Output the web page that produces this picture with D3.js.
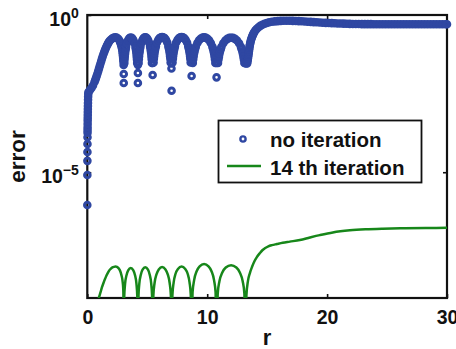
<!DOCTYPE html>
<html>
<head>
<meta charset="utf-8">
<script src="https://cdn.jsdelivr.net/npm/d3@7"></script>
<style>
  html, body { margin: 0; padding: 0; background: #fff; }
  svg { display: block; }
</style>
</head>
<body>
<svg id="chart" width="456" height="349"></svg>
<script>
// ---- data -------------------------------------------------------------
const xTicks = [0, 10, 20, 30];
const yTickExponents = [0, -5];
const seriesNames = ["no iteration", "14 th iteration"];

// error without iteration: [r, error]
const noIterStart = [
  [0.000, 9.1e-7], [0.004, 8.2e-6], [0.008, 2.3e-5], [0.011, 4.4e-5], [0.014, 7.9e-5],
  [0.017, 1.3e-4], [0.020, 1.8e-4], [0.023, 2.2e-4], [0.026, 2.7e-4], [0.029, 3.4e-4],
  [0.032, 4.3e-4], [0.035, 5.3e-4], [0.039, 6.6e-4], [0.043, 8.2e-4], [0.047, 1.02e-3],
  [0.052, 1.28e-3], [0.057, 1.59e-3], [0.063, 2.0e-3], [0.070, 2.5e-3], [0.080, 3.1e-3],
  [0.10, 3.56e-3], [0.225, 4.12e-3], [0.35, 4.77e-3], [0.475, 5.73e-3], [0.60, 7.4e-3],
  [0.6625, 8.57e-3], [0.725, 9.9e-3], [0.7875, 0.0117], [0.85, 0.0138], [0.9125, 0.0166],
  [0.975, 0.0199], [1.0375, 0.0239], [1.10, 0.0287], [1.1625, 0.0344], [1.225, 0.0413],
  [1.2875, 0.0488], [1.35, 0.0575], [1.4125, 0.0666], [1.475, 0.0771], [1.5375, 0.0876],
  [1.60, 0.0995], [1.6625, 0.111], [1.725, 0.124], [1.7875, 0.136], [1.85, 0.149],
  [1.975, 0.166], [2.10, 0.182], [2.225, 0.191], [2.35, 0.194], [2.475, 0.188],
  [2.60, 0.173], [2.71, 0.149], [2.75, 0.136], [2.79, 0.124], [2.825, 0.111],
  [2.86, 0.0995], [2.89, 0.088], [2.92, 0.0771], [2.94, 0.0666], [2.96, 0.0575],
  [2.975, 0.0498], [2.99, 0.0429], [3.005, 0.037], [3.02, 0.032], [3.03, 0.0257],
  [3.04, 0.0133], [3.04, 0.0069]
];

const noIterHumps = [
  [3.09, 0.030], [3.107, 0.0385], [3.125, 0.047], [3.149, 0.0587], [3.17, 0.070], [3.203, 0.0836],
  [3.23, 0.097], [3.30, 0.126], [3.39, 0.154], [3.47, 0.174], [3.55, 0.187], [3.625, 0.190],
  [3.70, 0.187], [3.78, 0.174], [3.86, 0.154], [3.95, 0.126], [4.02, 0.097], [4.047, 0.0836],
  [4.08, 0.070], [4.101, 0.0587], [4.12, 0.047], [4.143, 0.0385], [4.16, 0.030],
  [4.22, 0.026], [4.22, 0.0143], [4.22, 0.0069],
  [4.28, 0.030], [4.300, 0.0395], [4.32, 0.049], [4.343, 0.0603], [4.37, 0.072], [4.398, 0.0858],
  [4.43, 0.099], [4.50, 0.129], [4.59, 0.158], [4.67, 0.179], [4.76, 0.191], [4.835, 0.195],
  [4.91, 0.191], [4.995, 0.179], [5.08, 0.158], [5.17, 0.129], [5.24, 0.099], [5.272, 0.0858],
  [5.30, 0.072], [5.327, 0.0603], [5.35, 0.049], [5.370, 0.0395], [5.39, 0.030],
  [5.45, 0.030], [5.45, 0.0123],
  [5.53, 0.031], [5.553, 0.0406], [5.58, 0.050], [5.608, 0.0618], [5.64, 0.074], [5.679, 0.088],
  [5.72, 0.102], [5.81, 0.133], [5.92, 0.162], [6.03, 0.184], [6.15, 0.196], [6.24, 0.200],
  [6.33, 0.196], [6.45, 0.184], [6.56, 0.162], [6.67, 0.133], [6.76, 0.102], [6.801, 0.088],
  [6.84, 0.074], [6.872, 0.0618], [6.90, 0.050], [6.927, 0.0406], [6.95, 0.031],
  [7.03, 0.029], [7.02, 0.020], [7.03, 0.0039],
  [7.11, 0.031], [7.139, 0.0406], [7.16, 0.050], [7.197, 0.0618], [7.23, 0.074], [7.272, 0.088],
  [7.31, 0.102], [7.41, 0.133], [7.53, 0.162], [7.65, 0.184], [7.76, 0.196], [7.865, 0.200],
  [7.97, 0.196], [8.08, 0.184], [8.20, 0.162], [8.32, 0.133], [8.42, 0.102], [8.458, 0.088],
  [8.50, 0.074], [8.533, 0.0618], [8.57, 0.050], [8.591, 0.0406], [8.62, 0.031],
  [8.70, 0.035], [8.70, 0.0115],
  [8.80, 0.030], [8.835, 0.0395], [8.87, 0.049], [8.908, 0.0603], [8.95, 0.072], [9.002, 0.0858],
  [9.05, 0.099], [9.18, 0.129], [9.32, 0.158], [9.47, 0.179], [9.62, 0.191], [9.74, 0.195],
  [9.86, 0.191], [10.01, 0.179], [10.16, 0.158], [10.30, 0.129], [10.43, 0.099], [10.478, 0.0858],
  [10.53, 0.072], [10.572, 0.0603], [10.61, 0.049], [10.645, 0.0395], [10.68, 0.030],
  [10.78, 0.030], [10.78, 0.0104],
  [10.90, 0.030], [10.939, 0.0385], [10.98, 0.047], [11.024, 0.0587], [11.07, 0.070], [11.134, 0.0836],
  [11.19, 0.097], [11.34, 0.126], [11.51, 0.154], [11.68, 0.174], [11.85, 0.187], [12.00, 0.190],
  [12.15, 0.187], [12.32, 0.174], [12.49, 0.154], [12.66, 0.126], [12.81, 0.097], [12.866, 0.0836],
  [12.93, 0.070], [12.976, 0.0587], [13.02, 0.047], [13.061, 0.0385], [13.10, 0.030],
  [13.22, 0.029]
];

const noIterTail = [
  [13.33, 0.0287], [13.355, 0.0326], [13.38, 0.0371], [13.40, 0.0421], [13.42, 0.0479],
  [13.44, 0.0544], [13.46, 0.0618], [13.48, 0.0703], [13.50, 0.080], [13.52, 0.0908],
  [13.54, 0.103], [13.565, 0.115], [13.59, 0.129], [13.62, 0.144], [13.65, 0.160],
  [13.69, 0.178], [13.73, 0.197], [13.77, 0.216], [13.81, 0.236], [13.86, 0.257],
  [13.91, 0.280], [14.02, 0.324], [14.14, 0.367], [14.28, 0.409], [14.43, 0.450],
  [14.60, 0.488], [14.78, 0.525], [14.97, 0.557], [15.17, 0.586], [15.39, 0.608],
  [15.64, 0.626], [15.89, 0.640], [16.14, 0.649], [16.39, 0.653], [16.64, 0.653],
  [16.89, 0.653], [17.14, 0.649], [17.39, 0.645], [17.64, 0.640], [17.89, 0.630],
  [18.14, 0.620], [18.39, 0.612], [18.64, 0.603], [18.89, 0.595], [19.14, 0.586],
  [19.39, 0.577], [19.64, 0.569], [19.89, 0.563], [20.14, 0.557], [20.39, 0.550],
  [20.64, 0.545], [20.89, 0.538], [21.14, 0.534], [21.39, 0.531], [21.64, 0.527],
  [21.89, 0.523], [22.14, 0.520], [22.39, 0.517], [22.64, 0.515], [22.90, 0.514],
  [23.15, 0.513], [23.40, 0.512], [23.65, 0.511], [23.90, 0.510], [24.15, 0.510],
  [24.40, 0.509], [24.65, 0.509], [24.90, 0.508], [25.15, 0.508], [25.40, 0.507],
  [25.65, 0.507], [25.90, 0.507], [26.15, 0.506], [26.40, 0.506], [26.65, 0.506],
  [26.90, 0.506], [27.15, 0.506], [27.40, 0.506], [27.65, 0.506], [27.90, 0.506],
  [28.15, 0.506], [28.40, 0.506], [28.65, 0.506], [28.90, 0.506], [29.15, 0.506],
  [29.40, 0.506], [29.65, 0.506], [29.90, 0.506], [30.00, 0.506]
];

// error after the 14th iteration: [r, error]
const iter14 = [
  [0.85, 1e-11], [0.90, 8e-10], [0.975, 1.05e-9], [1.10, 1.5e-9], [1.225, 2.2e-9],
  [1.35, 3.0e-9], [1.475, 4.0e-9], [1.60, 5.2e-9], [1.725, 6.4e-9], [1.85, 7.7e-9],
  [1.975, 8.6e-9], [2.10, 9.4e-9], [2.225, 9.8e-9], [2.35, 1.0e-8], [2.475, 9.7e-9],
  [2.60, 8.9e-9], [2.71, 7.7e-9], [2.79, 6.4e-9], [2.86, 5.1e-9], [2.92, 4.0e-9],
  [2.96, 3.0e-9], [2.99, 2.2e-9], [3.01, 1.4e-9], [3.03, 1e-11],
  [3.08, 1.1e-9], [3.15, 2.8e-9], [3.27, 5.3e-9], [3.41, 7.6e-9], [3.625, 9.0e-9],
  [3.84, 7.6e-9], [3.98, 5.3e-9], [4.10, 2.8e-9], [4.17, 1.1e-9], [4.22, 1e-11],
  [4.27, 1.2e-9], [4.34, 2.9e-9], [4.47, 5.6e-9], [4.61, 8.0e-9], [4.835, 9.5e-9],
  [5.06, 8.0e-9], [5.20, 5.6e-9], [5.33, 2.9e-9], [5.40, 1.2e-9], [5.45, 1e-11],
  [5.51, 1.2e-9], [5.61, 3.0e-9], [5.77, 5.6e-9], [5.96, 8.1e-9], [6.24, 9.6e-9],
  [6.52, 8.1e-9], [6.71, 5.6e-9], [6.87, 3.0e-9], [6.97, 1.2e-9], [7.03, 1e-11],
  [7.10, 1.25e-9], [7.20, 3.1e-9], [7.36, 5.9e-9], [7.56, 8.4e-9], [7.865, 1.0e-8],
  [8.17, 8.4e-9], [8.37, 5.9e-9], [8.53, 3.1e-9], [8.63, 1.25e-9], [8.70, 1e-11],
  [8.78, 1.5e-9], [8.91, 3.7e-9], [9.12, 7.1e-9], [9.37, 1.01e-8], [9.74, 1.2e-8],
  [10.11, 1.01e-8], [10.36, 7.1e-9], [10.57, 3.7e-9], [10.70, 1.5e-9], [10.78, 1e-11],
  [10.88, 1.4e-9], [11.02, 3.4e-9], [11.26, 6.5e-9], [11.55, 9.3e-9], [11.99, 1.1e-8],
  [12.43, 9.3e-9], [12.72, 6.5e-9], [12.96, 3.4e-9], [13.10, 1.4e-9], [13.20, 1e-11],
  [13.27, 1.2e-9], [13.40, 3.5e-9], [13.56, 6.2e-9], [13.75, 1.0e-8], [13.95, 1.5e-8],
  [14.14, 2.0e-8], [14.40, 2.7e-8], [14.60, 3.3e-8], [14.81, 3.8e-8], [15.10, 4.4e-8],
  [15.40, 4.8e-8], [15.81, 5.2e-8], [16.30, 5.7e-8], [16.89, 6.2e-8], [17.73, 7.0e-8],
  [18.56, 8.4e-8], [19.39, 1.0e-7], [20.48, 1.22e-7], [21.90, 1.42e-7], [23.20, 1.53e-7],
  [24.64, 1.6e-7], [26.50, 1.65e-7], [28.30, 1.68e-7], [30.00, 1.7e-7]
];

// ---- layout -----------------------------------------------------------
const font = "'Liberation Sans', Arial, Helvetica, sans-serif";
const ink = "#111";
const blue = "#2f47a2";
const green = "#17871a";
const plot = { left: 87.3, right: 447, top: 15, bottom: 298 };

const x = d3.scaleLinear().domain([0, 30]).range([plot.left, plot.right]);
const y = d3.scaleLog().domain([1e-9, 1]).range([plot.bottom, plot.top]);

const svg = d3.select("#chart");

svg.append("defs").append("clipPath").attr("id", "plot-area")
  .append("rect")
  .attr("x", plot.left).attr("y", plot.top)
  .attr("width", plot.right - plot.left).attr("height", plot.bottom - plot.top);

function cleanAxis(g) {
  g.select(".domain").remove();
  g.attr("font-family", font).attr("font-weight", "bold");
  g.selectAll(".tick line").attr("stroke", ink).attr("stroke-width", 1.6);
}

// bottom axis with labels, ticks pointing inwards
svg.append("g")
  .attr("transform", `translate(0,${plot.bottom})`)
  .call(d3.axisBottom(x).tickValues(xTicks).tickSizeInner(-4).tickSizeOuter(0).tickPadding(12))
  .call(cleanAxis)
  .call(g => g.attr("font-size", 19.5))
  .call(g => g.selectAll(".tick text").attr("fill", ink));

// top axis: tick marks only
svg.append("g")
  .attr("transform", `translate(0,${plot.top})`)
  .call(d3.axisTop(x).tickValues(xTicks.slice(1, -1)).tickSizeInner(-4).tickSizeOuter(0).tickFormat(() => ""))
  .call(cleanAxis);

// right axis: tick marks only
svg.append("g")
  .attr("transform", `translate(${plot.right},0)`)
  .call(d3.axisRight(y).tickValues(yTickExponents.map(e => Math.pow(10, e)).slice(1)).tickSizeInner(-4).tickSizeOuter(0).tickFormat(() => ""))
  .call(cleanAxis);

// left axis: powers of ten with superscript exponents
const leftAxis = svg.append("g")
  .attr("transform", `translate(${plot.left},0)`)
  .call(d3.axisLeft(y).tickValues(yTickExponents.map(e => Math.pow(10, e))).tickSizeInner(-4).tickSizeOuter(0).tickFormat(() => ""))
  .call(cleanAxis);

leftAxis.selectAll(".tick").each(function (d) {
  const exp = Math.round(Math.log10(d));
  const t = d3.select(this).select("text")
    .attr("x", -8.5).attr("dy", null).attr("y", 10)
    .attr("fill", ink).attr("text-anchor", "end")
    .attr("font-size", 19.5);
  t.text(null);
  t.append("tspan").text("10");
  t.append("tspan").attr("dy", -8).attr("font-size", 14)
    .text(exp < 0 ? "\u2212" + Math.abs(exp) : String(exp));
});

// frame
svg.append("rect")
  .attr("x", plot.left).attr("y", plot.top)
  .attr("width", plot.right - plot.left).attr("height", plot.bottom - plot.top)
  .attr("fill", "none").attr("stroke", ink).attr("stroke-width", 2.2);

// axis titles
svg.append("text")
  .attr("x", (plot.left + plot.right) / 2).attr("y", 345)
  .attr("text-anchor", "middle")
  .attr("font-family", font).attr("font-weight", "bold").attr("font-size", 22)
  .attr("fill", ink).text("r");

svg.append("text")
  .attr("transform", `translate(25,${(plot.top + plot.bottom) / 2}) rotate(-90)`)
  .attr("text-anchor", "middle")
  .attr("font-family", font).attr("font-weight", "bold").attr("font-size", 22.5)
  .attr("fill", ink).text("error");

// 14th iteration: solid line, clipped to the axes
const line = d3.line()
  .x(d => x(d[0]))
  .y(d => y(d[1]))
  .curve(d3.curveMonotoneX);

svg.append("path")
  .datum(iter14)
  .attr("clip-path", "url(#plot-area)")
  .attr("fill", "none")
  .attr("stroke", green)
  .attr("stroke-width", 2.5)
  .attr("stroke-linejoin", "round")
  .attr("d", line);

// no iteration: open circle markers
const noIter = noIterStart.concat(noIterHumps, noIterTail);
svg.append("g")
  .selectAll("circle")
  .data(noIter)
  .join("circle")
  .attr("cx", d => x(d[0]))
  .attr("cy", d => y(d[1]))
  .attr("r", 2.8)
  .attr("fill", "none")
  .attr("stroke", blue)
  .attr("stroke-width", 3);

// legend
const legend = svg.append("g");
legend.append("rect")
  .attr("x", 218.5).attr("y", 120.5).attr("width", 203).attr("height", 62)
  .attr("fill", "#fff").attr("stroke", ink).attr("stroke-width", 1.8);
legend.append("circle")
  .attr("cx", 243).attr("cy", 139).attr("r", 2.6)
  .attr("fill", "none").attr("stroke", blue).attr("stroke-width", 2.4);
legend.append("line")
  .attr("x1", 227).attr("x2", 261).attr("y1", 166).attr("y2", 166)
  .attr("stroke", green).attr("stroke-width", 2.5);
legend.selectAll("text.entry")
  .data(seriesNames)
  .join("text")
  .attr("class", "entry")
  .attr("x", 270)
  .attr("y", (d, i) => 146.5 + i * 28.3)
  .attr("font-family", font).attr("font-weight", "bold").attr("font-size", 20.5)
  .attr("fill", ink)
  .text(d => d);
</script>
</body>
</html>
